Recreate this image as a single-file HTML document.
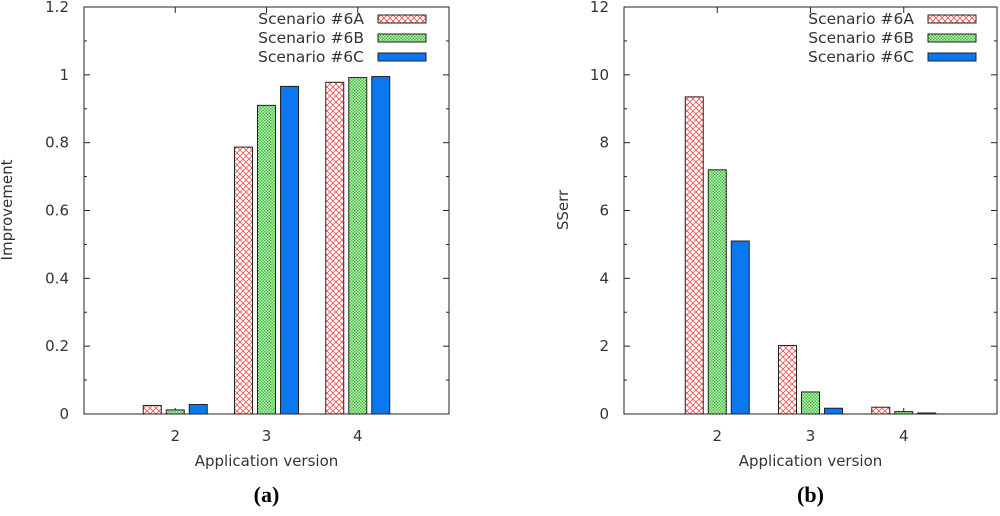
<!DOCTYPE html>
<html><head><meta charset="utf-8"><style>
body{margin:0;background:#fff}
svg text{font-family:"DejaVu Sans","Liberation Sans",sans-serif;fill:#333}
</style></head><body>
<svg id="svg" width="1000" height="511" xmlns="http://www.w3.org/2000/svg">
<defs>
<pattern id="patA" width="6" height="6" patternUnits="userSpaceOnUse"><rect width="6" height="6" fill="#fff"/><path d="M0 0L6 6M6 0L0 6" stroke="#f05050" stroke-width="0.8"/></pattern>
<pattern id="patB" width="3" height="3" patternUnits="userSpaceOnUse"><rect width="3" height="3" fill="#c8f0c0"/><rect width="1.5" height="1.5" fill="#40c040"/><rect x="1.5" y="1.5" width="1.5" height="1.5" fill="#40c040"/></pattern>
</defs>
</svg>
<script>
const categories=[2,3,4];
const seriesNames=['Scenario #6A','Scenario #6B','Scenario #6C'];
const leftA=[0.025,0.787,0.978];
const leftB=[0.012,0.91,0.992];
const leftC=[0.028,0.966,0.995];
const rightA=[9.35,2.02,0.2];
const rightB=[7.2,0.65,0.07];
const rightC=[5.1,0.17,0.03];
const leftTicks=[0,0.2,0.4,0.6,0.8,1,1.2];
const rightTicks=[0,2,4,6,8,10,12];
const fills=['url(#patA)','url(#patB)','#0a78f0'];
const svg=document.getElementById('svg');
const NS='http://www.w3.org/2000/svg';
function mk(tag,attrs,parent){const e=document.createElementNS(NS,tag);for(const k in attrs)e.setAttribute(k,attrs[k]);(parent||svg).appendChild(e);return e;}
function chart(cfg){
  const g=mk('g',{});
  
  
  const x0=cfg.x0,x1=cfg.x1,y0=414,y1=7;
  const xs=v=>x0+(v-1)/4*(x1-x0);
  const ys=v=>y0-(v/cfg.ymax)*(y0-y1);
  const frame=mk('rect',{x:x0,y:y1,width:x1-x0,height:y0-y1,fill:'none',stroke:'#222','stroke-width':1},g);
  
  
  cfg.ticks.forEach((t,i)=>{
    const y=ys(t);
    mk('line',{x1:x0,x2:x0+6,y1:y,y2:y,stroke:'#222'},g);
    mk('line',{x1:x1,x2:x1-6,y1:y,y2:y,stroke:'#222'},g);
    if(i<cfg.ticks.length-1){const ym=ys((t+cfg.ticks[i+1])/2);
      mk('line',{x1:x0,x2:x0+3,y1:ym,y2:ym,stroke:'#222'},g);
      mk('line',{x1:x1,x2:x1-3,y1:ym,y2:ym,stroke:'#222'},g);}
    const tx=mk('text',{x:x0-15,y:y+5,'text-anchor':'end','font-size':15},g);
    tx.textContent=String(t);
    
    
  });
  categories.forEach(c=>{
    const x=xs(c);
    mk('line',{x1:x,x2:x,y1:y0,y2:y0-6,stroke:'#222'},g);
    mk('line',{x1:x,x2:x,y1:y1,y2:y1+6,stroke:'#222'},g);
    const tx=mk('text',{x:x,y:y0+27,'text-anchor':'middle','font-size':15},g);
    tx.textContent=String(c);
    
    
  });
  cfg.series.forEach((s,si)=>{
    s.forEach((v,ci)=>{
      const cx=xs(categories[ci])+(si-1)*23;
      const r=mk('rect',{x:cx-9,y:ys(v),width:18,height:y0-ys(v),fill:fills[si],stroke:'#222','stroke-width':1},g);
      
      
    });
  });
  const ly=[19,38,57];
  seriesNames.forEach((n,i)=>{
    const t=mk('text',{x:cfg.legX-14,y:ly[i]+5,'text-anchor':'end','font-size':15.5},g);
    t.textContent=n;
    
    
    const r=mk('rect',{x:cfg.legX,y:ly[i]-4,width:48,height:8,fill:fills[i],stroke:'#222'},g);
    
    
  });
  const yl=mk('text',{x:0,y:0,'text-anchor':'middle','font-size':15,transform:`translate(${cfg.ylx},210) rotate(-90)`},g);
  yl.textContent=cfg.ylabel;
  
  
  const xl=mk('text',{x:(x0+x1)/2,y:466,'text-anchor':'middle','font-size':15},g);
  xl.textContent='Application version';
  
  
  const cap=mk('text',{x:(x0+x1)/2,y:502,'text-anchor':'middle','font-size':22,'font-weight':'bold',style:'font-family:"Liberation Serif",serif;fill:#000'},g);
  cap.textContent=cfg.caption;
  
  
}
chart({name:'improvement-chart',x0:84,x1:449,ymax:1.2,ticks:leftTicks,series:[leftA,leftB,leftC],legX:378,ylabel:'Improvement',ylx:12,caption:'(a)'});
chart({name:'sserr-chart',x0:624,x1:997,ymax:12,ticks:rightTicks,series:[rightA,rightB,rightC],legX:928,ylabel:'SSerr',ylx:568,caption:'(b)'});
</script>
</body></html>
